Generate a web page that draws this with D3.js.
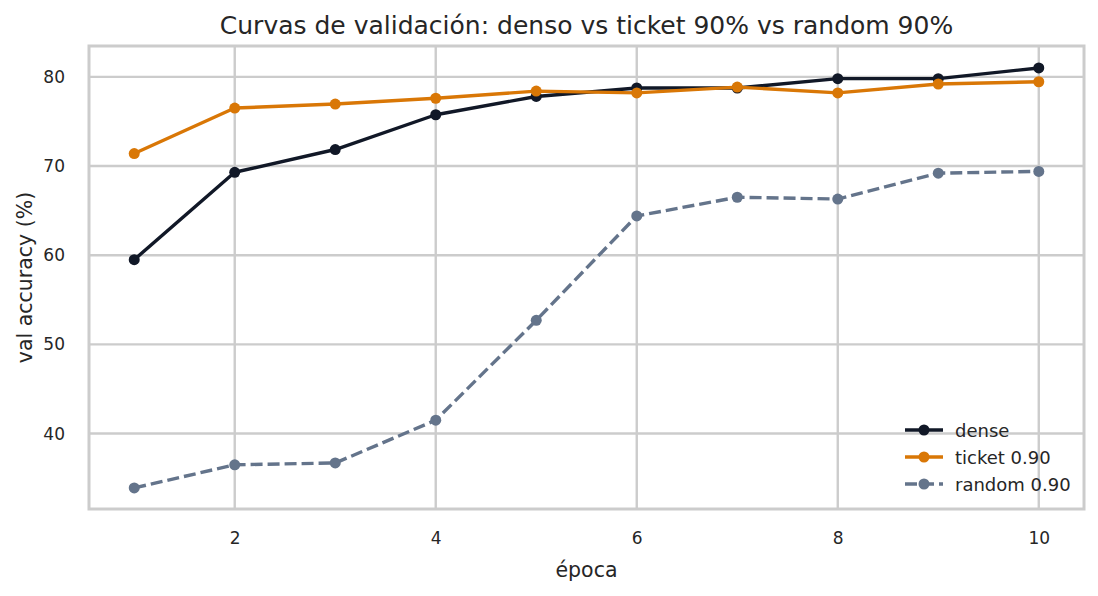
<!DOCTYPE html>
<html><head><meta charset="utf-8">
<script src="https://cdn.jsdelivr.net/npm/d3@7"></script>
<style>
body{margin:0;background:#fff;}
text{font-family:"DejaVu Sans",sans-serif;fill:#262626;}
</style></head>
<body><svg id="c" width="1098" height="596"></svg>
<script>
const epochs = [1,2,3,4,5,6,7,8,9,10];
const dense = [59.5,69.3,71.85,75.75,77.8,78.75,78.75,79.8,79.8,81.0];
const ticket = [71.4,76.5,76.95,77.6,78.4,78.2,78.85,78.2,79.2,79.45];
const random = [33.9,36.5,36.7,41.5,52.7,64.4,66.5,66.3,69.2,69.4];
const xTicks = [2,4,6,8,10];
const yTicks = [40,50,60,70,80];
const seriesNames = ["dense","ticket 0.90","random 0.90"];
const seriesColors = ["#111827","#d97706","#64748b"];
const seriesDash = [null,null,"12,5"];

const svg = d3.select("#c");
const L=89, R=1084, T=46, B=509;
const x = d3.scaleLinear().domain([0.55,10.45]).range([L,R]);
const y = d3.scaleLinear().domain([31.54,83.46]).range([B,T]);

// grid
const g = svg.append("g");
g.selectAll(".vg").data(xTicks).join("line")
  .attr("x1",d=>x(d)).attr("x2",d=>x(d)).attr("y1",T).attr("y2",B)
  .attr("stroke","#cccccc").attr("stroke-width",2.4);
g.selectAll(".hg").data(yTicks).join("line")
  .attr("y1",d=>y(d)).attr("y2",d=>y(d)).attr("x1",L).attr("x2",R)
  .attr("stroke","#cccccc").attr("stroke-width",2.4);
svg.append("rect").attr("x",L).attr("y",T).attr("width",R-L).attr("height",B-T)
  .attr("fill","none").attr("stroke","#cccccc").attr("stroke-width",3);

// axes via d3
const xa = svg.append("g").attr("transform",`translate(0,${B})`)
  .call(d3.axisBottom(x).tickValues(xTicks).tickSize(0).tickPadding(23).tickFormat(d3.format("d")));
const ya = svg.append("g").attr("transform",`translate(${L},0)`)
  .call(d3.axisLeft(y).tickValues(yTicks).tickSize(0).tickPadding(24).tickFormat(d3.format("d")));
[xa,ya].forEach(a=>{a.select(".domain").remove();a.selectAll("text").style("font-size","17px").style("fill","#262626").style("font-family","DejaVu Sans");});

// lines
const data=[dense,ticket,random];
const line = d3.line().x((d,i)=>x(epochs[i])).y(d=>y(d));
data.forEach((s,k)=>{
  svg.append("path").datum(s).attr("d",line).attr("fill","none")
    .attr("stroke",seriesColors[k]).attr("stroke-width",3.4)
    .attr("stroke-dasharray",seriesDash[k]).attr("stroke-linejoin","round");
  svg.append("g").selectAll("circle").data(s).join("circle")
    .attr("cx",(d,i)=>x(epochs[i])).attr("cy",d=>y(d)).attr("r",5.5)
    .attr("fill",seriesColors[k]);
});

// title & labels
svg.append("text").attr("x",(L+R)/2).attr("y",34).attr("text-anchor","middle")
  .style("font-size","25px").text("Curvas de validación: denso vs ticket 90% vs random 90%");
svg.append("text").attr("x",(L+R)/2).attr("y",577).attr("text-anchor","middle")
  .style("font-size","20.5px").text("época");
svg.append("text").attr("transform",`translate(32,${(T+B)/2}) rotate(-90)`).attr("text-anchor","middle")
  .style("font-size","20.5px").text("val accuracy (%)");

// legend
const lg = svg.append("g").attr("transform","translate(905,430)");
seriesNames.forEach((n,k)=>{
  const gy=k*27;
  lg.append("line").attr("x1",0).attr("x2",38).attr("y1",gy).attr("y2",gy)
    .attr("stroke",seriesColors[k]).attr("stroke-width",3.4).attr("stroke-dasharray",k==2?"12,5":null);
  lg.append("circle").attr("cx",19).attr("cy",gy).attr("r",5.5).attr("fill",seriesColors[k]);
  lg.append("text").attr("x",50).attr("y",gy+6.5).style("font-size","18px").text(n);
});
</script></body></html>
